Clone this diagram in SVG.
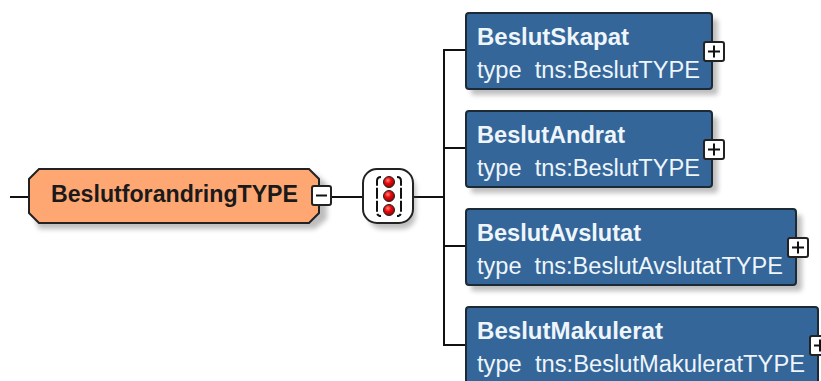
<svg xmlns="http://www.w3.org/2000/svg" width="821" height="381" viewBox="0 0 821 381">
<style>
text{font-family:"Liberation Sans",Arial,sans-serif;font-size:23px;white-space:pre}
.n{font-weight:bold}
.w{fill:#eef5fb}
.b{fill:#346699;stroke:#1c2a36;stroke-width:2}
.s{fill:#555;opacity:.38;filter:url(#bl)}
.l{fill:none;stroke:#111;stroke-width:2}
.t{fill:#fff;stroke:#222;stroke-width:2}
.g{stroke:#111;stroke-width:2;fill:none}
</style>
<defs><filter id="bl" x="-10%" y="-20%" width="120%" height="140%"><feGaussianBlur stdDeviation="2.5"/></filter>
<radialGradient id="r" cx=".4" cy=".35" r=".7"><stop offset="0" stop-color="#ff8a8a"/><stop offset=".4" stop-color="#ee0a0a"/><stop offset="1" stop-color="#8a0000"/></radialGradient></defs>
<g id="connectors">
<path class="l" d="M10 197H29M332 197H362M414 197H444M465 50H444V345H465M444 148H465M444 246H465"/>
</g>
<g id="root">
<polygon class="s" points="39,174 315,174 327,184 327,219 315,229 39,229 35,219 35,184"/>
<polygon points="39,169 309,169 319,179 319,213 309,223 39,223 29,213 29,179" fill="#fea773" stroke="#222" stroke-width="2"/>
<text class="n" x="51" y="202" fill="#1a1a1a" textLength="247" lengthAdjust="spacingAndGlyphs">BeslutforandringTYPE</text>
<rect class="t" x="312" y="186" width="19" height="19" rx="2"/>
<path class="g" d="M316 195.500H327"/>
</g>
<g id="sequence">
<rect class="s" x="368" y="175" width="48" height="54" rx="14"/>
<rect x="363" y="169" width="50" height="54" rx="14" fill="#fff" stroke="#222" stroke-width="2"/>
<path class="g" stroke-dasharray="11 2" d="M381 177Q377 177 377 181V212Q377 216 381 216M397 177Q401 177 401 181V212Q401 216 397 216"/>
<circle cx="389" cy="182" r="5.500" fill="url(#r)" stroke="#222"/>
<circle cx="389" cy="196" r="5.500" fill="url(#r)" stroke="#222"/>
<circle cx="389" cy="210" r="5.500" fill="url(#r)" stroke="#222"/>
</g>
<g id="BeslutSkapat">
<rect class="s" x="471" y="19" width="247" height="76" rx="3"/>
<rect class="b" x="466" y="13" width="246" height="76" rx="3"/>
<text class="n w" x="477" y="45" textLength="152" lengthAdjust="spacingAndGlyphs">BeslutSkapat</text>
<text class="w" x="477" y="78" textLength="223" lengthAdjust="spacingAndGlyphs">type  tns:BeslutTYPE</text>
<rect class="t" x="704" y="42" width="20" height="19" rx="2"/>
<path class="g" d="M708 51.500H720M714 45.500V57.500"/>
</g>
<g id="BeslutAndrat">
<rect class="s" x="471" y="117" width="247" height="76" rx="3"/>
<rect class="b" x="466" y="111" width="246" height="76" rx="3"/>
<text class="n w" x="477" y="143" textLength="148" lengthAdjust="spacingAndGlyphs">BeslutAndrat</text>
<text class="w" x="477" y="176" textLength="223" lengthAdjust="spacingAndGlyphs">type  tns:BeslutTYPE</text>
<rect class="t" x="704" y="140" width="20" height="19" rx="2"/>
<path class="g" d="M708 149.500H720M714 143.500V155.500"/>
</g>
<g id="BeslutAvslutat">
<rect class="s" x="471" y="215" width="331" height="76" rx="3"/>
<rect class="b" x="466" y="209" width="330" height="76" rx="3"/>
<text class="n w" x="477" y="241" textLength="164" lengthAdjust="spacingAndGlyphs">BeslutAvslutat</text>
<text class="w" x="477" y="274" textLength="306" lengthAdjust="spacingAndGlyphs">type  tns:BeslutAvslutatTYPE</text>
<rect class="t" x="788" y="238" width="20" height="19" rx="2"/>
<path class="g" d="M792 247.500H804M798 241.500V253.500"/>
</g>
<g id="BeslutMakulerat">
<rect class="b" x="466" y="307" width="352" height="80" rx="3"/>
<text class="n w" x="477" y="339" textLength="186" lengthAdjust="spacingAndGlyphs">BeslutMakulerat</text>
<text class="w" x="477" y="372" textLength="328" lengthAdjust="spacingAndGlyphs">type  tns:BeslutMakuleratTYPE</text>
<rect class="t" x="810" y="336" width="20" height="19" rx="2"/>
<path class="g" d="M814 345.500H826M820 339.500V351.500"/>
</g>
</svg>
